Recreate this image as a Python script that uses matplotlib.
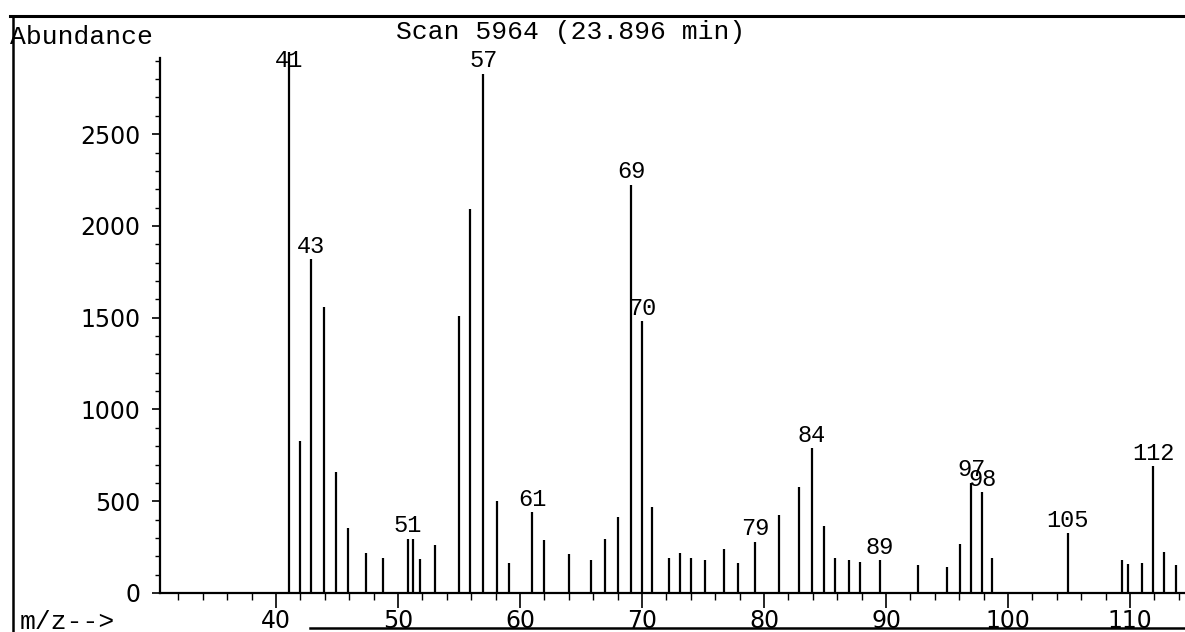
import numpy as np
import matplotlib
matplotlib.use("Agg")
import matplotlib.pyplot as plt
from matplotlib.ticker import MultipleLocator, FixedLocator
from matplotlib.lines import Line2D

# ---- data ----
mz = [41.1, 42.0, 42.9, 43.9, 44.9, 45.9, 47.4, 48.8, 50.8, 51.2, 51.8, 53.0,
      55.0, 55.9, 57.0, 58.1, 59.1, 61.0, 62.0, 64.0, 65.8, 67.0, 68.0, 69.1,
      70.0, 70.8, 72.2, 73.1, 74.0, 75.2, 76.7, 77.9, 79.3, 81.2, 82.9, 83.9,
      84.9, 85.8, 87.0, 87.9, 89.5, 92.6, 95.0, 96.1, 97.0, 97.9, 98.7, 104.9,
      109.3, 109.8, 111.0, 111.9, 112.8, 113.8]
abundance = [2950, 830, 1820, 1560, 660, 355, 220, 190, 295, 295, 185, 260,
             1510, 2090, 2830, 500, 165, 440, 290, 215, 180, 295, 415, 2225,
             1480, 470, 190, 220, 190, 180, 240, 165, 280, 425, 575, 790,
             365, 190, 180, 170, 180, 150, 140, 265, 600, 550, 190, 325,
             180, 160, 165, 690, 225, 155]
peak_labels = [41, 43, 51, 57, 61, 69, 70, 79, 84, 89, 97, 98, 105, 112]
y_major = [0, 500, 1000, 1500, 2000, 2500]
x_major = [40, 50, 60, 70, 80, 90, 100, 110]
title_text = "Scan 5964 (23.896 min)"
ylabel_text = "Abundance"
xlabel_text = "m/z-->"

W, H = 1185, 632
fig = plt.figure(figsize=(W / 100, H / 100), dpi=100)
fig.patch.set_facecolor("white")

ax_left, ax_bottom, ax_top = 160, 593, 58
ax = fig.add_axes([ax_left / W, (H - ax_bottom) / H, 1 - ax_left / W,
                   (ax_bottom - ax_top) / H])
ax.set_xlim(30.5, 114.5)
ax.set_ylim(0, 2915)

ax.vlines(mz, 0, abundance, color="black", lw=1.6, clip_on=False)

mono = "Liberation Mono"
mz_arr = np.array(mz)
for lab in peak_labels:
    i = int(np.argmin(np.abs(mz_arr - lab)))
    ty = min(abundance[i], 2830)
    ax.annotate(str(lab), (mz[i], ty), xytext=(0, 1), textcoords="offset points",
                ha="center", va="bottom", fontfamily=mono, fontsize=17,
                annotation_clip=False)

for s in ["top", "right"]:
    ax.spines[s].set_visible(False)
for s in ["left", "bottom"]:
    ax.spines[s].set_linewidth(1.6)

ax.yaxis.set_major_locator(FixedLocator(y_major))
ax.yaxis.set_minor_locator(MultipleLocator(100))
ax.xaxis.set_major_locator(FixedLocator(x_major))
ax.xaxis.set_minor_locator(MultipleLocator(2))
ax.set_yticklabels([str(v) for v in y_major])
ax.set_xticklabels([str(v) for v in x_major])

ax.tick_params(axis="y", which="major", direction="out", length=6, width=1.2,
               pad=8, labelsize=17)
ax.tick_params(axis="y", which="minor", direction="out", length=3.5, width=1.0)
ax.tick_params(axis="x", which="major", direction="out", length=11, width=1.2,
               pad=0.5, labelsize=17)
ax.tick_params(axis="x", which="minor", direction="out", length=5, width=1.0)
for t in ax.get_xticklabels() + ax.get_yticklabels():
    t.set_fontfamily("DejaVu Sans")

# header / footer texts
fig.text(10 / W, 1 - 37 / H, ylabel_text, ha="left", va="center",
         fontfamily=mono, fontsize=19)
fig.text(571 / W, 1 - 32 / H, title_text, ha="center", va="center",
         fontfamily=mono, fontsize=19)
fig.text(20 / W, 1 - 622 / H, xlabel_text, ha="left", va="center",
         fontfamily=mono, fontsize=19)

# outer frame of the printout
fig.add_artist(Line2D([10 / W, 1], [1 - 16 / H, 1 - 16 / H],
                      transform=fig.transFigure, color="black", lw=2.2))
fig.add_artist(Line2D([13 / W, 13 / W], [1 - 16 / H, 0],
                      transform=fig.transFigure, color="black", lw=1.8))
fig.add_artist(Line2D([310 / W, 1], [1 - 628 / H, 1 - 628 / H],
                      transform=fig.transFigure, color="black", lw=1.8))

fig.savefig("out.png", dpi=100)
